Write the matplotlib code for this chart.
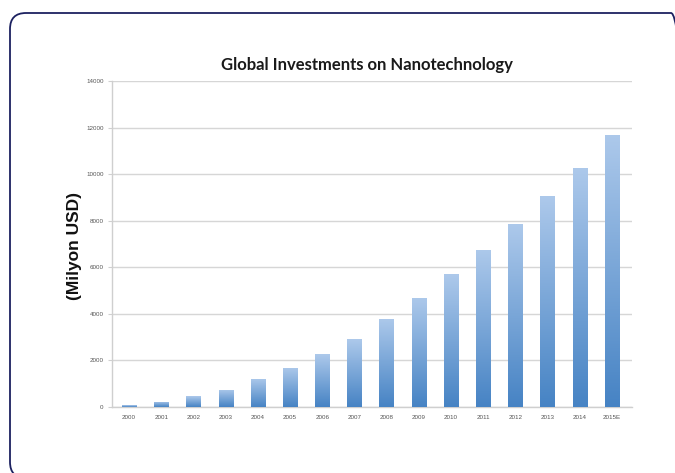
import matplotlib
matplotlib.use("Agg")
import matplotlib.pyplot as plt
import numpy as np
from matplotlib.patches import FancyBboxPatch
from matplotlib.transforms import IdentityTransform
from matplotlib.colors import LinearSegmentedColormap

years = ["2000", "2001", "2002", "2003", "2004", "2005", "2006", "2007",
         "2008", "2009", "2010", "2011", "2012", "2013", "2014", "2015E"]
investments = [80, 230, 460, 750, 1220, 1690, 2260, 2900,
               3800, 4700, 5700, 6750, 7850, 9050, 10280, 11680]
y_ticks = [0, 2000, 4000, 6000, 8000, 10000, 12000, 14000]

title = "Global Investments on Nanotechnology"
ylabel = "(Milyon USD)"

fig = plt.figure(figsize=(6.75, 4.73), dpi=100)
fig.patch.set_facecolor("white")

# rounded frame (pixel coordinates, origin bottom-left)
frame = FancyBboxPatch((10, -5), 677, 465,
                       boxstyle="round,pad=0,rounding_size=16",
                       transform=IdentityTransform(), fill=False,
                       edgecolor="#1c2160", linewidth=1.3)
fig.add_artist(frame)

ax = fig.add_axes([0.166, 0.1395, 0.770, 0.6893])
x = np.arange(len(years))
bars = ax.bar(x, investments, width=0.44, color="none", edgecolor="none", zorder=3)

cmap = LinearSegmentedColormap.from_list("grad", ["#4683c4", "#adc9eb"])
grad = np.linspace(0, 1, 256).reshape(-1, 1)
for b in bars:
    x0, y0 = b.get_x(), b.get_y()
    w, h = b.get_width(), b.get_height()
    im = ax.imshow(grad, cmap=cmap, origin="lower", aspect="auto",
                   extent=[x0, x0 + w, y0, y0 + h], zorder=3)
    im.set_clip_path(b)

ax.set_xlim(-0.53, 15.62)
ax.set_ylim(0, 14000)
ax.set_yticks(y_ticks)
ax.set_yticklabels([str(v) for v in y_ticks], fontsize=4.5, color="#555555",
                   family="Liberation Sans")
ax.set_xticks(x)
ax.set_xticklabels(years, fontsize=4.5, color="#555555", family="Liberation Sans")
ax.tick_params(axis="x", length=0, pad=6)
ax.tick_params(axis="y", length=3, width=0.8, color="#d0d0d0", pad=3)
ax.grid(axis="y", color="#d6d6d6", linewidth=1.0, zorder=0)
ax.set_axisbelow(True)
for s in ["top", "right"]:
    ax.spines[s].set_visible(False)
ax.spines["left"].set_color("#cfcfcf")
ax.spines["bottom"].set_color("#cfcfcf")
ax.spines["left"].set_linewidth(1.0)
ax.spines["bottom"].set_linewidth(1.0)

fig.text(0.544, 0.862, title, ha="center", va="center", fontsize=12,
         fontweight="bold", family="Lato", color="#1a1a1a")
fig.text(0.111, 0.48, ylabel, ha="center", va="center", rotation=90,
         fontsize=12.5, fontweight="bold", family="Liberation Sans", color="#111111")

fig.savefig("out.png", dpi=100)
